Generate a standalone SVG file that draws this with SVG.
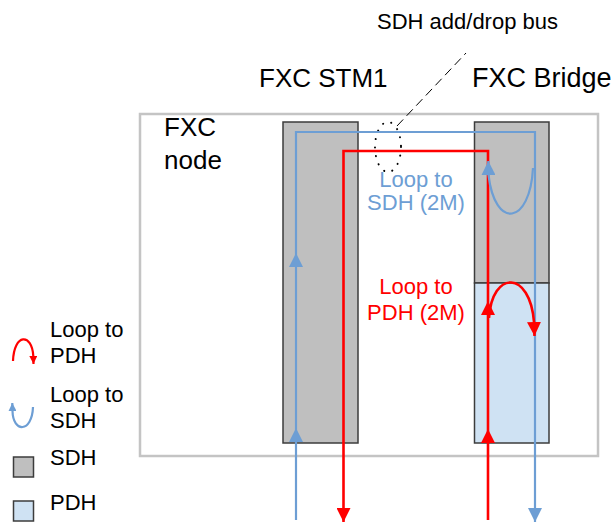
<svg xmlns="http://www.w3.org/2000/svg" width="616" height="523" viewBox="0 0 616 523">
<style>
text{font-family:"Liberation Sans",Arial,sans-serif;fill:#000}
.h{font-size:26px}
.t{font-size:22px}
.sdh{fill:#bfbfbf;stroke:#3c3c3c;stroke-width:1.5}
.pdh{fill:#cfe2f3;stroke:#3c3c3c;stroke-width:1.5}
.b{fill:none;stroke:#6d9ed4;stroke-width:2.2}
.r{fill:none;stroke:#ff0000;stroke-width:2.6}
</style>
<defs>
<marker id="ab" markerUnits="userSpaceOnUse" markerWidth="14" markerHeight="14" viewBox="0 0 14 14" refX="14" refY="7" orient="auto"><path d="M0,0 L14,7 L0,14 z" fill="#6d9ed4"/></marker>
<marker id="ar" markerUnits="userSpaceOnUse" markerWidth="14" markerHeight="14" viewBox="0 0 14 14" refX="14" refY="7" orient="auto"><path d="M0,0 L14,7 L0,14 z" fill="#ff0000"/></marker>
<marker id="abs" markerUnits="userSpaceOnUse" markerWidth="8" markerHeight="8" viewBox="0 0 8 8" refX="8" refY="4" orient="auto"><path d="M0,0 L8,4 L0,8 z" fill="#6d9ed4"/></marker>
<marker id="ars" markerUnits="userSpaceOnUse" markerWidth="8" markerHeight="8" viewBox="0 0 8 8" refX="8" refY="4" orient="auto"><path d="M0,0 L8,4 L0,8 z" fill="#ff0000"/></marker>
</defs>
<rect width="616" height="523" fill="#fff"/>

<g id="fxc-node">
<rect x="140" y="114" width="458" height="342" fill="#fff" stroke="#c4c4c4" stroke-width="2.5"/>
<text class="h" x="164" y="136">FXC</text>
<text class="h" x="164" y="169">node</text>
</g>

<g id="fxc-stm1">
<rect class="sdh" x="283" y="122" width="75" height="321"/>
<text class="h" x="259" y="87">FXC STM1</text>
</g>

<g id="fxc-bridge">
<rect class="sdh" x="474.5" y="122" width="74.5" height="161"/>
<rect class="pdh" x="474.5" y="283" width="74.5" height="160"/>
<text class="h" x="472" y="87" style="font-size:27px">FXC Bridge</text>
</g>

<g id="add-drop-bus">
<ellipse cx="388" cy="147" rx="13" ry="25" fill="none" stroke="#000" stroke-width="2" stroke-dasharray="0.1,8.5" stroke-linecap="round"/>
<text class="t" x="377" y="29">SDH add/drop bus</text>
</g>

<g id="connectors">
<path class="b" d="M296,520 V428" marker-end="url(#ab)"/>
<path class="b" d="M296,428 V253" marker-end="url(#ab)"/>
<path class="b" d="M296,253 V132 H535 V522" marker-end="url(#ab)"/>
<path class="r" d="M488,520 V429" marker-end="url(#ar)"/>
<path class="r" d="M488,429 V301" marker-end="url(#ar)"/>
<path class="r" d="M488,301 V151 H343.5 V522" marker-end="url(#ar)"/>
<path class="b" d="M533,168 C530,225 495,230 488.5,175 L488.3,161" marker-end="url(#ab)"/>
<path class="r" d="M489,318 C492,270 530,270 534,322 L534.5,336" marker-end="url(#ar)"/>
<path d="M397,126 L466,53" fill="none" stroke="#000" stroke-width="1" stroke-dasharray="9,5"/>
</g>

<g id="labels">
<text class="t" x="416" y="187" text-anchor="middle" fill="#6d9ed4" style="fill:#6d9ed4">Loop to</text>
<text class="t" x="416" y="210" text-anchor="middle" style="fill:#6d9ed4">SDH (2M)</text>
<text class="t" x="416" y="294" text-anchor="middle" style="fill:#ff0000">Loop to</text>
<text class="t" x="416" y="320" text-anchor="middle" style="fill:#ff0000">PDH (2M)</text>
</g>

<g id="legend">
<path d="M13,361 C14,333 32,333 33.3,356 L33.5,364" fill="none" stroke="#ff0000" stroke-width="2.2" marker-end="url(#ars)"/>
<text class="t" x="50" y="337">Loop to</text>
<text class="t" x="50" y="363">PDH</text>
<path d="M33,407 C32,433 13,433 12.5,411 L12.3,403" fill="none" stroke="#6d9ed4" stroke-width="2.2" marker-end="url(#abs)"/>
<text class="t" x="50" y="402">Loop to</text>
<text class="t" x="50" y="428">SDH</text>
<rect class="sdh" x="13.5" y="457" width="20" height="20"/>
<text class="t" x="50" y="465">SDH</text>
<rect class="pdh" x="13.5" y="501" width="20" height="20"/>
<text class="t" x="50" y="510">PDH</text>
</g>
</svg>
